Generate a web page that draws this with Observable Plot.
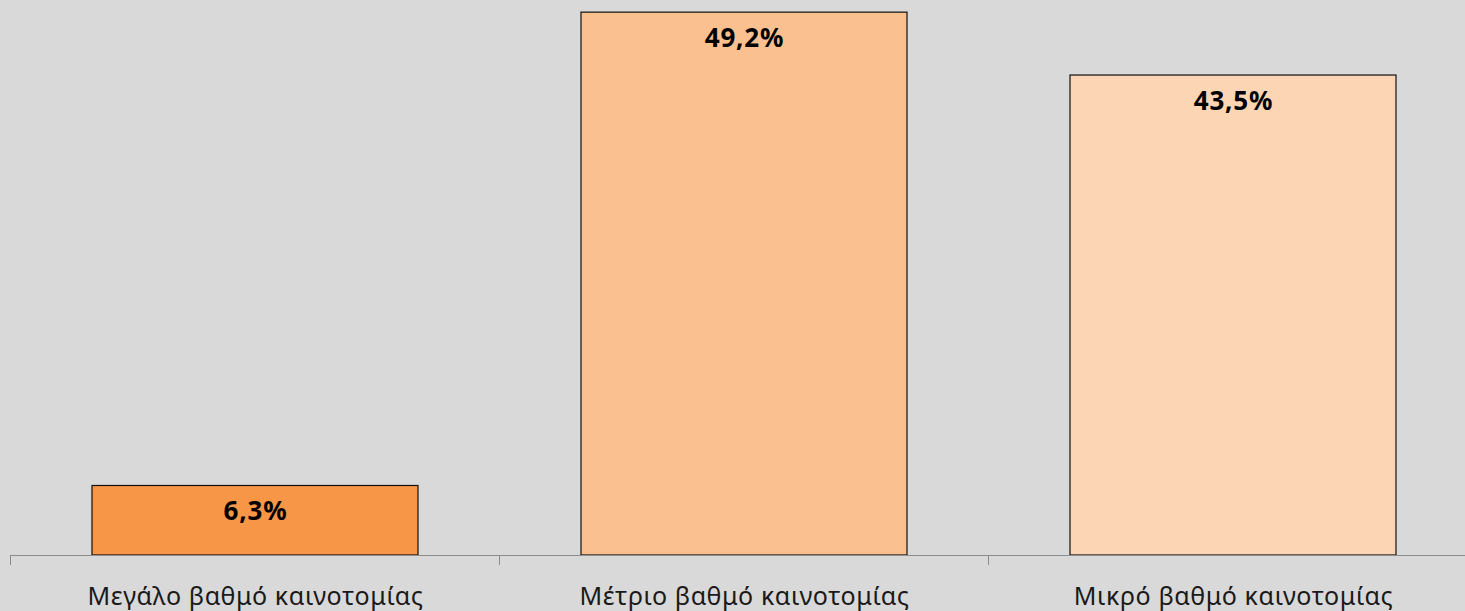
<!DOCTYPE html>
<html>
<head>
<meta charset="utf-8">
<script src="https://cdn.jsdelivr.net/npm/d3@7"></script>
<script src="https://cdn.jsdelivr.net/npm/@observablehq/plot@0.6"></script>
<style>
  html, body { margin: 0; padding: 0; background: #d9d9d9; overflow: hidden; }
  #chart svg { display: block; }
  #chart svg g[aria-label="x-axis tick label"] text { letter-spacing: 0.6px; }
  #chart svg g[aria-label="text"] text { letter-spacing: 0.8px; }
</style>
</head>
<body>
<div id="chart"></div>
<script>
const categories = ["Μεγάλο βαθμό καινοτομίας", "Μέτριο βαθμό καινοτομίας", "Μικρό βαθμό καινοτομίας"];
const values = [6.3, 49.2, 43.5];
const labels = ["6,3%", "49,2%", "43,5%"];
const colors = ["#f79646", "#fac090", "#fcd5b5"];

const data = categories.map((c, i) => ({cat: c, value: values[i], label: labels[i], color: colors[i]}));

// Boundary ticks between categories, drawn with the x scale
function boundaryTicks(index, scales, values, dimensions) {
  const x = scales.x;
  const step = x.step ? x.step() : (x.bandwidth() * 1.5);
  const bw = x.bandwidth();
  const g = d3.create("svg:g");
  const y0 = scales.y(0);
  const doms = x.domain();
  const pos = doms.map(d => x(d) - (step - bw) / 2);
  pos.push(x(doms[doms.length - 1]) + bw + (step - bw) / 2);
  g.append("line")
    .attr("x1", pos[0]).attr("x2", dimensions.width)
    .attr("y1", y0 + 0.5).attr("y2", y0 + 0.5)
    .attr("stroke", "#8c8c8c").attr("stroke-width", 1);
  for (const p of pos) {
    g.append("line")
      .attr("x1", p).attr("x2", p)
      .attr("y1", y0).attr("y2", y0 + 10)
      .attr("stroke", "#8c8c8c").attr("stroke-width", 1);
  }
  return g.node();
}

const chart = Plot.plot({
  width: 1465,
  height: 611,
  marginTop: 0,
  marginBottom: 56,
  marginLeft: 10,
  marginRight: 0,
  style: {background: "#d9d9d9", fontFamily: "'Noto Sans', 'DejaVu Sans', sans-serif", color: "#000"},
  x: {domain: categories, range: [10, 1478], paddingInner: 1/3, paddingOuter: 1/6, label: null},
  y: {domain: [0, 50.3], axis: null},
  color: {type: "identity"},
  marks: [
    Plot.barY(data, {x: "cat", y: "value", fill: "color", stroke: "#111", strokeWidth: 1.2}),
    boundaryTicks,
    Plot.text(data, {x: "cat", y: "value", text: "label", dy: 26, fontSize: 26, fontWeight: "bold", fill: "#000"}),
    Plot.axisX({tickSize: 0, tickPadding: 32, fontSize: 25, fill: "#1a1a1a", label: null})
  ]
});
document.getElementById("chart").appendChild(chart);
</script>
</body>
</html>
